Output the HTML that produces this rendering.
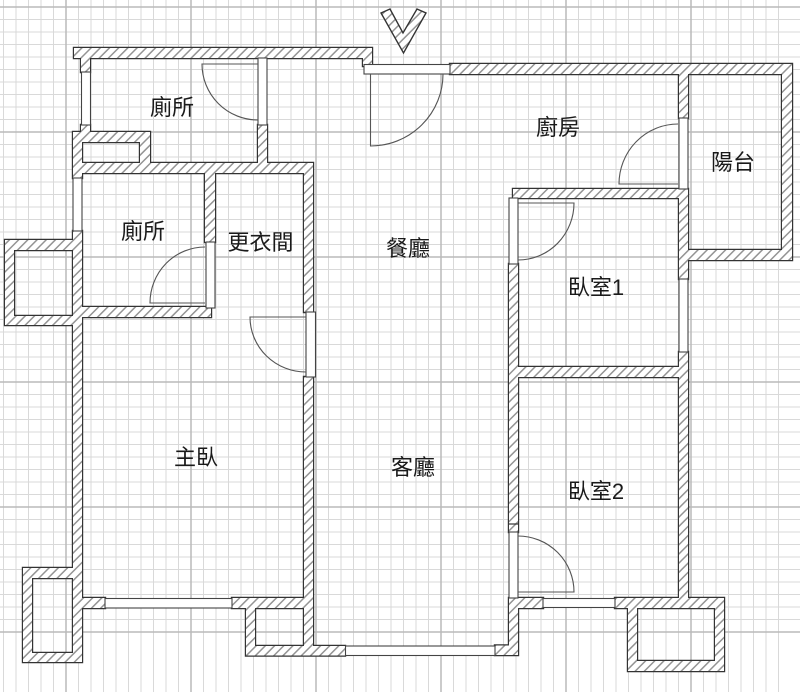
<!DOCTYPE html>
<html><head><meta charset="utf-8"><style>
html,body{margin:0;padding:0;background:#fff;width:800px;height:692px;overflow:hidden}
svg{display:block}
text{font-family:"Liberation Sans","Noto Sans CJK TC",sans-serif;font-size:22px;fill:#1a1a1a;text-anchor:middle}
</style></head><body>
<svg width="800" height="692" viewBox="0 0 800 692" xmlns="http://www.w3.org/2000/svg">
<defs>
<pattern id="h" patternUnits="userSpaceOnUse" width="6.5" height="6.5" patternTransform="rotate(45)">
<rect width="6.5" height="6.5" fill="#fff"/><rect x="0" y="0" width="1.5" height="6.5" fill="#949494"/>
</pattern>
<path id="w" d="M74 48H372V58H74Z M363 48H372V66H363Z M450 64H792V74H450Z M782 64H792V260H782Z M679 250H792V260H679Z M679 64H688V118H679Z M679 189H688V279H679Z M679 352H688V600H679Z M513 189H688V198H513Z M509 264H518V532H509Z M509 367H688V377H509Z M509 598H543V608H509Z M615 598H724V608H615Z M628 598H637V671H628Z M628 661H724V671H628Z M715 598H724V671H715Z M509 598H518V655H509Z M495 645.500H518V655H495Z M246 646H345V655.500H246Z M246 598H255V655.500H246Z M232 598H313V608H232Z M304 163H313V312H304Z M304 377H313V655H304Z M82 598H105V608H82Z M73 231H82V662H73Z M73 132H82V178H73Z M73 132H150V142H73Z M140 132H150V173H140Z M73 163H258V173H73Z M258 125H267V173H258Z M267 163H313V173H267Z M81 58H90V72H81Z M81 125H90V132H81Z M205 173H215V242H205Z M82 307H211V317H82Z M5 240H73V250H5Z M5 240H14V325H5Z M5 316H73V325H5Z M23 568H73V578H23Z M23 568H32V662H23Z M23 653H82V662H23Z"/>
</defs>
<rect width="800" height="692" fill="#fff"/>
<path fill="none" stroke="#d9d9d9" stroke-width="1" d="M3.500 0v692m12.500-692v692m12.500-692v692m12.500-692v692m12.500-692v692m12.500-692v692m12.500-692v692m12.500-692v692m12.500-692v692m12.500-692v692m12.500-692v692m12.500-692v692m12.500-692v692m12.500-692v692m12.500-692v692m12.500-692v692m12.500-692v692m12.500-692v692m12.500-692v692m12.500-692v692m12.500-692v692m12.500-692v692m12.500-692v692m12.500-692v692m12.500-692v692m12.500-692v692m12.500-692v692m12.500-692v692m12.500-692v692m12.500-692v692m12.500-692v692m12.500-692v692m12.500-692v692m12.500-692v692m12.500-692v692m12.500-692v692m12.500-692v692m12.500-692v692m12.500-692v692m12.500-692v692m12.500-692v692m12.500-692v692m12.500-692v692m12.500-692v692m12.500-692v692m12.500-692v692m12.500-692v692m12.500-692v692m12.500-692v692m12.500-692v692m12.500-692v692m12.500-692v692m12.500-692v692m12.500-692v692m12.500-692v692m12.500-692v692m12.500-692v692m12.500-692v692m12.500-692v692m12.500-692v692m12.500-692v692m12.500-692v692m12.500-692v692"/>
<path fill="none" stroke="#d9d9d9" stroke-width="1" d="M0 7h800m-800 12.500h800m-800 12.500h800m-800 12.500h800m-800 12.500h800m-800 12.500h800m-800 12.500h800m-800 12.500h800m-800 12.500h800m-800 12.500h800m-800 12.500h800m-800 12.500h800m-800 12.500h800m-800 12.500h800m-800 12.500h800m-800 12.500h800m-800 12.500h800m-800 12.500h800m-800 12.500h800m-800 12.500h800m-800 12.500h800m-800 12.500h800m-800 12.500h800m-800 12.500h800m-800 12.500h800m-800 12.500h800m-800 12.500h800m-800 12.500h800m-800 12.500h800m-800 12.500h800m-800 12.500h800m-800 12.500h800m-800 12.500h800m-800 12.500h800m-800 12.500h800m-800 12.500h800m-800 12.500h800m-800 12.500h800m-800 12.500h800m-800 12.500h800m-800 12.500h800m-800 12.500h800m-800 12.500h800m-800 12.500h800m-800 12.500h800m-800 12.500h800m-800 12.500h800m-800 12.500h800m-800 12.500h800m-800 12.500h800"/>
<path fill="none" stroke="#bababa" stroke-width="1.5" d="M66 0V692M191 0V692M316 0V692M441 0V692M566 0V692M691 0V692M0 7H800M0 132H800M0 257H800M0 382H800M0 507H800M0 632H800"/>

<use href="#w" fill="#333" stroke="#333" stroke-width="2.4"/>
<use href="#w" fill="url(#h)"/>

<g fill="#fff" stroke="#444" stroke-width="1.1">
<rect x="364" y="64.500" width="86" height="9.500"/>
<rect x="679" y="118" width="9" height="71"/>
<rect x="679" y="279" width="9" height="73"/>
<rect x="509" y="198" width="9" height="66"/>
<rect x="509" y="532" width="9" height="66"/>
<rect x="543" y="598.500" width="72" height="9"/>
<rect x="345.500" y="646" width="149.500" height="9.500"/>
<rect x="105" y="598.500" width="127" height="9.500"/>
<rect x="306" y="312" width="9.500" height="65"/>
<rect x="258" y="58" width="9" height="67"/>
<rect x="81.500" y="72" width="9" height="53"/>
<rect x="73" y="178" width="9" height="53"/>
<rect x="206" y="242" width="9" height="66"/>
</g>
<path fill="none" stroke="#333" stroke-width="1.2" d="M509 524H518"/>

<polygon points="381,13 390,9 403,33 417,9 426,13 403.500,53" fill="url(#h)" stroke="#333" stroke-width="1.4"/>

<g fill="none" stroke="#555" stroke-width="1.1">
<path d="M258 64H202A56 56 0 0 0 258 120"/>
<path d="M370.500 74V146A72.500 72 0 0 0 443 74"/>
<path d="M678 184H619A59 60 0 0 1 678 124"/>
<path d="M518 203H574A56 57 0 0 1 518 260"/>
<path d="M205 303H150A55 56 0 0 1 205 247"/>
<path d="M306 317H250A56 55 0 0 0 306 372"/>
<path d="M518 592H574A56 56 0 0 0 518 536"/>
</g>

<text x="172" y="115">廁所</text>
<text x="143" y="239">廁所</text>
<text x="260.500" y="250">更衣間</text>
<text x="408" y="256">餐廳</text>
<text x="558" y="135">廚房</text>
<text x="733" y="170">陽台</text>
<text x="596" y="295">臥室1</text>
<text x="596" y="499">臥室2</text>
<text x="196" y="465">主臥</text>
<text x="413" y="475">客廳</text>
</svg>
</body></html>
